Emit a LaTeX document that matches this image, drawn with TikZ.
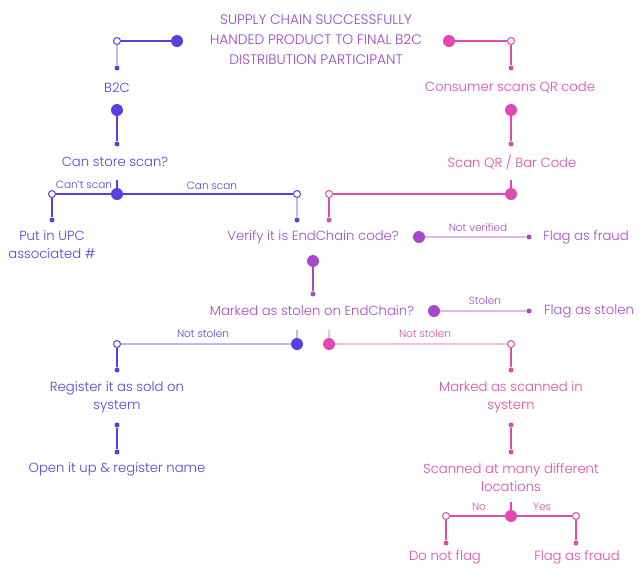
\documentclass[tikz,border=0pt]{standalone}
\usepackage{fontspec}
\setmainfont{Poppins}[UprightFont=* Light]
\usetikzlibrary{positioning}

\definecolor{vio}{HTML}{5B3DE0}
\definecolor{viol}{HTML}{C2B8F4}
\definecolor{pnk}{HTML}{E04AB0}
\definecolor{pnkl}{HTML}{F4BCDF}
\definecolor{pur}{HTML}{A648CB}
\definecolor{purl}{HTML}{DDB8EC}

\tikzset{
  bigdot/.style={circle,fill=#1,inner sep=0pt,minimum size=12pt},
  opendot/.style={circle,draw=#1,fill=white,line width=1pt,inner sep=0pt,minimum size=7pt},
  smalldot/.style={circle,fill=#1,inner sep=0pt,minimum size=5pt},
  lbl/.style={text=#1,font=\fontsize{13.2}{18}\selectfont,align=center,inner sep=0pt},
  tag/.style={text=#1,font=\fontsize{10.5}{10}\selectfont,inner sep=0pt},
  wire/.style={draw=#1,line width=1.4pt},
}

\begin{document}
\begin{tikzpicture}[x=1pt,y=-1pt]

\useasboundingbox (0,0) rectangle (640,574);

% title
\node[lbl=vio!55!pnk,font=\fontsize{13.8}{20}\selectfont] (title) at (316,40)
  {SUPPLY CHAIN SUCCESSFULLY\\HANDED PRODUCT TO FINAL B2C\\DISTRIBUTION PARTICIPANT};

% left branch: B2C
\node[bigdot=vio] (b0) at (177,41) {};
\node[opendot=vio] (b1) at (117,41) {};
\node[smalldot=vio] (b2) at (117,68) {};
\draw[wire=vio] (b0) -- (b1);
\draw[wire=viol] (b1) -- (b2);
\node[lbl=vio] (b2c) at (117,88) {B2C};

\node[bigdot=vio] (b3) at (117,110) {};
\node[smalldot=vio] (b4) at (117,144) {};
\draw[wire=vio] (b3) -- (b4);
\node[lbl=vio] (store) at (115,162) {Can store scan?};

\coordinate (t1) at (117,180);
\node[bigdot=vio] (b5) at (117,194) {};
\node[opendot=vio] (b6) at (52,194) {};
\node[opendot=vio] (b7) at (297,194) {};
\node[smalldot=vio] (b8) at (52,220) {};
\node[smalldot=vio] (b9) at (297,220) {};
\draw[wire=vio] (t1) -- (b5);
\draw[wire=vio] (b5) -- (b6);
\draw[wire=vio] (b5) -- (b7);
\draw[wire=vio] (b6) -- (b8);
\draw[wire=viol] (b7) -- (b9);
\node[tag=vio] at (84,185) {Can't scan};
\node[tag=vio] at (212,186) {Can scan};
\node[lbl=vio] (upc) at (52,245) {Put in UPC\\associated \#};

% right branch: consumer
\node[bigdot=pnk] (c0) at (449,41) {};
\node[opendot=pnk] (c1) at (511,41) {};
\node[smalldot=pnk] (c2) at (511,68) {};
\draw[wire=pnk] (c0) -- (c1);
\draw[wire=pnk] (c1) -- (c2);
\node[lbl=pnk] (cons) at (510,88) {Consumer scans QR code};

\node[bigdot=pnk] (c3) at (511,110) {};
\node[smalldot=pnk] (c4) at (511,144) {};
\draw[wire=pnk] (c3) -- (c4);
\node[lbl=pnk] (qr) at (512,162) {Scan QR / Bar Code};

\coordinate (t2) at (511,180);
\node[bigdot=pnk] (c5) at (511,194) {};
\node[opendot=pnk] (c6) at (329,194) {};
\node[smalldot=pnk] (c7) at (329,220) {};
\draw[wire=pnk] (t2) -- (c5);
\draw[wire=pnk] (c5) -- (c6);
\draw[wire=pnk] (c6) -- (c7);

% middle: checks
\node[lbl=pur] (verify) at (313,237) {Verify it is EndChain code?};
\node[bigdot=pur] (m0) at (419,237) {};
\node[smalldot=pur] (m1) at (529,237) {};
\draw[wire=purl] (m0) -- (m1);
\node[tag=pur] at (478,228) {Not verified};
\node[lbl=pur] (fraud1) at (586,237) {Flag as fraud};

\node[bigdot=pur] (m2) at (313,261) {};
\node[smalldot=pur] (m3) at (313,294) {};
\draw[wire=pur] (m2) -- (m3);
\node[lbl=pur] (stolen) at (312,311) {Marked as stolen on EndChain?};
\node[bigdot=pur] (m4) at (434,311) {};
\node[smalldot=pur] (m5) at (529,311) {};
\draw[wire=purl] (m4) -- (m5);
\node[tag=pur] at (485,301) {Stolen};
\node[lbl=pur] (fstolen) at (589,311) {Flag as stolen};

% not stolen, store side
\coordinate (t3) at (297,330);
\node[bigdot=vio] (b10) at (297,344) {};
\node[opendot=vio] (b11) at (117,344) {};
\node[smalldot=vio] (b12) at (117,370) {};
\draw[wire=viol] (t3) -- (b10);
\draw[wire=viol] (b10) -- (b11);
\draw[wire=vio] (b11) -- (b12);
\node[tag=vio] at (203,334) {Not stolen};
\node[lbl=vio] (reg) at (117,397) {Register it as sold on\\system};
\node[smalldot=vio] (b13) at (117,425) {};
\node[smalldot=vio] (b14) at (117,452) {};
\draw[wire=vio] (b13) -- (b14);
\node[lbl=vio] (open) at (117,469) {Open it up \& register name};

% not stolen, consumer side
\coordinate (t4) at (329,330);
\node[bigdot=pnk] (c8) at (329,344) {};
\node[opendot=pnk] (c9) at (511,344) {};
\node[smalldot=pnk] (c10) at (511,370) {};
\draw[wire=pnkl] (t4) -- (c8);
\draw[wire=pnkl] (c8) -- (c9);
\draw[wire=pnk] (c9) -- (c10);
\node[tag=pnk] at (425,334) {Not stolen};
\node[lbl=pnk] (scanned) at (511,397) {Marked as scanned in\\system};
\node[smalldot=pnk] (c11) at (511,425) {};
\node[smalldot=pnk] (c12) at (511,452) {};
\draw[wire=pnk] (c11) -- (c12);
\node[lbl=pnk] (many) at (511,478) {Scanned at many different\\locations};

\coordinate (t5) at (511,502);
\node[bigdot=pnk] (c13) at (511,516) {};
\node[opendot=pnk] (c14) at (446,516) {};
\node[opendot=pnk] (c15) at (576,516) {};
\node[smalldot=pnk] (c16) at (446,543) {};
\node[smalldot=pnk] (c17) at (576,543) {};
\draw[wire=pnk] (t5) -- (c13);
\draw[wire=pnk] (c13) -- (c14);
\draw[wire=pnk] (c13) -- (c15);
\draw[wire=pnk] (c14) -- (c16);
\draw[wire=pnk] (c15) -- (c17);
\node[tag=pnk] at (479,507) {No};
\node[tag=pnk] at (542,507) {Yes};
\node[lbl=pnk] (noflag) at (445,557) {Do not flag};
\node[lbl=pnk] (fraud2) at (577,557) {Flag as fraud};

\end{tikzpicture}
\end{document}
